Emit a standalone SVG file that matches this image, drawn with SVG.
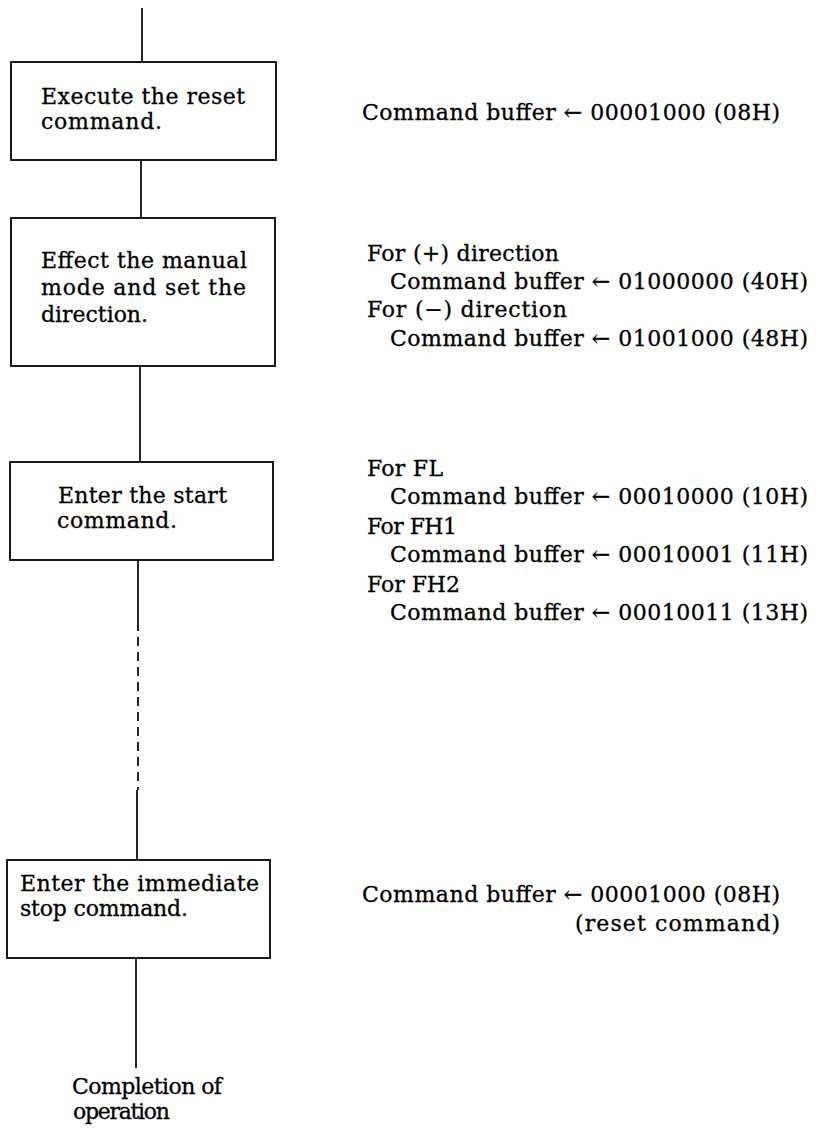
<svg xmlns="http://www.w3.org/2000/svg" width="816" height="1129" viewBox="0 0 816 1129">
  <style>
    .box { fill: #ffffff; stroke: #000000; stroke-width: 1.8; }
    .link { fill: none; stroke: #000000; stroke-width: 1.7; }
    .dash { stroke-dasharray: 9 6; }
    text { font-family: "DejaVu Serif", "Liberation Serif", serif; font-size: 22px; fill: #000000; stroke: #000000; stroke-width: 0.3; }
  </style>
  <rect width="816" height="1129" fill="#ffffff"/>

  <!-- vertical flow line -->
  <g id="connectors">
    <line class="link" x1="142" y1="8" x2="142" y2="62"/>
    <line class="link" x1="141" y1="160" x2="141" y2="218"/>
    <line class="link" x1="140" y1="366" x2="140" y2="462"/>
    <line class="link" x1="138" y1="560" x2="138" y2="622"/>
    <line class="link dash" x1="138" y1="622" x2="138" y2="790"/>
    <line class="link" x1="137" y1="790" x2="137" y2="860"/>
    <line class="link" x1="136" y1="958" x2="136" y2="1068"/>
  </g>

  <g id="step-reset">
    <rect class="box" x="11" y="62" width="265" height="98"/>
    <text x="41" y="104" textLength="204" lengthAdjust="spacing">Execute the reset</text>
    <text x="41" y="129" textLength="121" lengthAdjust="spacing">command.</text>
  </g>

  <g id="step-manual">
    <rect class="box" x="11" y="218" width="264" height="148"/>
    <text x="41" y="268" textLength="206" lengthAdjust="spacing">Effect the manual</text>
    <text x="41" y="295" textLength="205" lengthAdjust="spacing">mode and set the</text>
    <text x="41" y="322" textLength="107" lengthAdjust="spacing">direction.</text>
  </g>

  <g id="step-start">
    <rect class="box" x="10" y="462" width="263" height="98"/>
    <text x="58" y="503" textLength="169" lengthAdjust="spacing">Enter the start</text>
    <text x="57" y="528" textLength="120" lengthAdjust="spacing">command.</text>
  </g>

  <g id="step-stop">
    <rect class="box" x="7" y="860" width="263" height="98"/>
    <text x="20" y="891" textLength="239" lengthAdjust="spacing">Enter the immediate</text>
    <text x="20" y="916" textLength="168" lengthAdjust="spacing">stop command.</text>
  </g>

  <g id="end-label">
    <text x="72" y="1094" textLength="150" lengthAdjust="spacing">Completion of</text>
    <text x="73" y="1119" textLength="97" lengthAdjust="spacing">operation</text>
  </g>

  <!-- register settings beside each step -->
  <g id="note-reset">
    <text x="362" y="120" textLength="418" lengthAdjust="spacing">Command buffer ← 00001000 (08H)</text>
  </g>

  <g id="note-manual">
    <text x="367" y="261" textLength="192" lengthAdjust="spacing">For (+) direction</text>
    <text x="390" y="289" textLength="418" lengthAdjust="spacing">Command buffer ← 01000000 (40H)</text>
    <text x="367" y="317" textLength="200" lengthAdjust="spacing">For (−) direction</text>
    <text x="390" y="346" textLength="418" lengthAdjust="spacing">Command buffer ← 01001000 (48H)</text>
  </g>

  <g id="note-start">
    <text x="367" y="476" textLength="76" lengthAdjust="spacing">For FL</text>
    <text x="390" y="504" textLength="418" lengthAdjust="spacing">Command buffer ← 00010000 (10H)</text>
    <text x="367" y="534" textLength="90" lengthAdjust="spacing">For FH1</text>
    <text x="390" y="562" textLength="418" lengthAdjust="spacing">Command buffer ← 00010001 (11H)</text>
    <text x="367" y="592" textLength="93" lengthAdjust="spacing">For FH2</text>
    <text x="390" y="620" textLength="418" lengthAdjust="spacing">Command buffer ← 00010011 (13H)</text>
  </g>

  <g id="note-stop">
    <text x="362" y="902" textLength="418" lengthAdjust="spacing">Command buffer ← 00001000 (08H)</text>
    <text x="575" y="931" textLength="205" lengthAdjust="spacing">(reset command)</text>
  </g>
</svg>
